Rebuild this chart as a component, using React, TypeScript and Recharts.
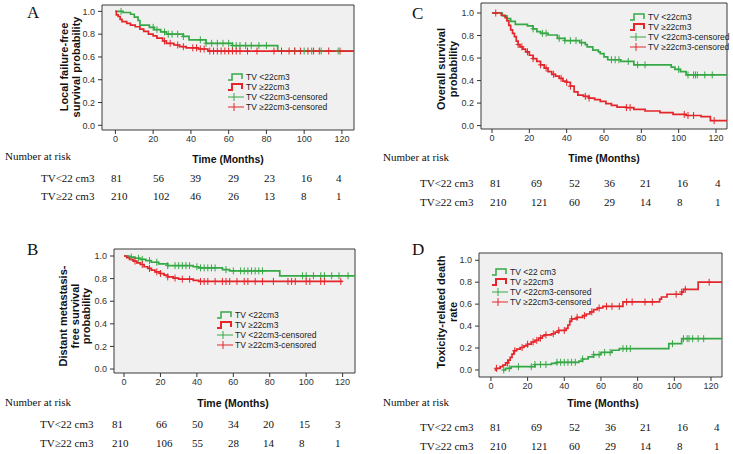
import { ComposedChart, Line, Scatter, XAxis, YAxis, CartesianGrid, ReferenceArea, Legend } from 'recharts';

type Pt = [number, number];

const GREEN = '#36a845';
const RED = '#e4262b';
const SANS = '"Liberation Sans", Arial, sans-serif';
const SERIF = '"Liberation Serif", "Times New Roman", serif';

const xTicks = [0, 20, 40, 60, 80, 100, 120];
const yTicks = [0, 0.2, 0.4, 0.6, 0.8, 1.0];

// A: local failure-free survival
const aLow: Pt[] = [[0, 1.0], [4, 0.99], [8, 0.975], [10, 0.95], [12, 0.92], [13, 0.88], [18, 0.86], [20.5, 0.84], [24, 0.82], [27, 0.8], [36, 0.78], [39, 0.75], [48, 0.72], [62, 0.7], [86, 0.652], [127, 0.652]];
const aHigh: Pt[] = [[0, 1.0], [0.5, 0.97], [1.5, 0.955], [2.5, 0.93], [3.5, 0.91], [6, 0.895], [8, 0.88], [10.5, 0.865], [13, 0.845], [15, 0.825], [17.5, 0.8], [20, 0.785], [22, 0.765], [25, 0.74], [27, 0.72], [31, 0.705], [34, 0.69], [37.5, 0.68], [44, 0.67], [49, 0.652], [127, 0.652]];
const aLowCens = [3, 20, 22, 26, 28, 30, 33, 36, 45, 48, 51, 54, 57, 60, 62, 64, 66, 69, 72, 76, 80, 95, 100, 104, 109, 118];
const aHighCens = [26, 29, 33, 36, 41, 43, 45, 47, 50, 52, 54, 56, 58, 60, 62, 64, 66, 70, 75, 84, 88, 92, 95, 98, 102, 105, 108, 113, 119];

// B: distant metastasis-free survival
const bLow: Pt[] = [[0, 1.0], [3, 0.99], [6, 0.98], [9, 0.97], [12, 0.96], [15, 0.945], [19, 0.93], [24, 0.915], [38, 0.905], [41, 0.895], [54, 0.88], [58, 0.868], [85.5, 0.825], [127, 0.825]];
const bHigh: Pt[] = [[0, 1.0], [1.5, 0.985], [3, 0.97], [5, 0.955], [7, 0.94], [9, 0.925], [11, 0.905], [13, 0.89], [15, 0.875], [17, 0.86], [20, 0.845], [22, 0.83], [24, 0.815], [27, 0.805], [30, 0.795], [38, 0.785], [41, 0.775], [120, 0.775]];
const bLowCens = [4, 8, 10, 14, 18, 24, 28, 30, 32, 34, 36, 40, 42, 44, 46, 48, 50, 56, 60, 64, 66, 68, 70, 72, 74, 76, 98, 100, 104, 108, 110, 114, 118, 123];
const bHighCens = [6, 10, 14, 18, 20, 24, 28, 32, 36, 42, 44, 46, 50, 54, 56, 58, 62, 66, 68, 72, 76, 82, 90, 92, 94, 100, 102, 108, 110, 119];

// C: overall survival
const cLow: Pt[] = [[0, 1.0], [5.5, 0.975], [8, 0.95], [10, 0.925], [12.5, 0.9], [19, 0.885], [22, 0.86], [24, 0.835], [26, 0.82], [30, 0.805], [35, 0.775], [39, 0.755], [47, 0.737], [50, 0.72], [51, 0.7], [54, 0.67], [57, 0.655], [58, 0.64], [60, 0.61], [62, 0.585], [69, 0.57], [76, 0.54], [96, 0.52], [98, 0.5], [101, 0.48], [104, 0.45], [126, 0.45]];
const cHigh: Pt[] = [[0, 1.0], [5, 0.98], [7, 0.96], [8, 0.93], [9, 0.89], [10, 0.85], [11, 0.82], [12, 0.79], [13, 0.75], [14, 0.72], [15, 0.7], [16.5, 0.68], [18, 0.655], [20, 0.625], [22, 0.595], [24, 0.57], [26, 0.54], [28, 0.51], [30, 0.48], [32, 0.455], [34, 0.44], [36, 0.42], [38, 0.395], [40, 0.385], [42, 0.35], [44, 0.3], [46, 0.27], [49, 0.26], [52, 0.245], [55, 0.23], [58, 0.215], [61, 0.195], [64, 0.18], [67, 0.165], [72, 0.16], [76, 0.145], [82, 0.13], [90, 0.115], [97, 0.1], [104, 0.09], [112, 0.08], [117, 0.045], [126, 0.045]];
const cLowCens = [22, 27, 29, 36, 39, 42, 45, 48, 64, 66, 68, 73, 78, 82, 100, 105, 108, 109, 110, 114, 118];
const cHighCens = [2, 14, 16, 19, 22, 26, 29, 33, 37, 40, 42, 50, 52, 72, 74, 103, 105, 108, 119];

// D: toxicity-related death rate
const dLow: Pt[] = [[6.5, 0], [8, 0.015], [11, 0.03], [24, 0.05], [33, 0.06], [36, 0.07], [48, 0.08], [50, 0.1], [53, 0.12], [56, 0.14], [60, 0.16], [66, 0.18], [70, 0.195], [97, 0.24], [104, 0.285], [127, 0.285]];
const dHigh: Pt[] = [[2, 0], [3, 0.015], [5, 0.03], [6.5, 0.045], [8, 0.065], [9.5, 0.09], [10.5, 0.115], [11.5, 0.145], [12.5, 0.175], [14, 0.19], [16, 0.205], [18, 0.22], [20, 0.235], [22, 0.255], [24, 0.27], [26, 0.29], [28, 0.31], [29, 0.32], [33, 0.33], [35, 0.345], [37, 0.36], [41, 0.38], [42, 0.41], [43, 0.445], [44, 0.465], [47, 0.48], [50, 0.495], [52, 0.51], [54, 0.53], [56, 0.55], [58, 0.565], [61, 0.58], [72, 0.62], [92, 0.645], [93, 0.665], [96, 0.69], [104, 0.71], [105, 0.735], [113, 0.8], [127, 0.8]];
const dLowCens = [7, 10, 15, 22, 24, 27, 30, 36, 38, 40, 42, 44, 46, 50, 56, 59, 62, 65, 72, 74, 76, 99, 105, 107, 108, 110, 113, 116];
const dHighCens = [3, 9, 13, 17, 20, 23, 25, 27, 30, 34, 37, 40, 44, 47, 51, 55, 59, 63, 66, 70, 74, 77, 84, 88, 101, 104, 106, 119];

// number at risk
const riskGroups = ['TV<22 cm3', 'TV≥22 cm3'];
const aRisk = [[81, 56, 39, 29, 23, 16, 4], [210, 102, 46, 26, 13, 8, 1]];
const bRisk = [[81, 66, 50, 34, 20, 15, 3], [210, 106, 55, 28, 14, 8, 1]];
const cRisk = [[81, 69, 52, 36, 21, 16, 4], [210, 121, 60, 29, 14, 8, 1]];
const dRisk = [[81, 69, 52, 36, 21, 16, 4], [210, 121, 60, 29, 14, 8, 1]];

const legendLabels = ['TV <22cm3', 'TV ≥22cm3', 'TV <22cm3-censored', 'TV ≥22cm3-censored'];
const legendLabelsD = ['TV <22 cm3', 'TV ≥22cm3', 'TV <22cm3-censored', 'TV ≥22cm3-censored'];

const stepAt = (curve: Pt[], t: number) => {
    let s = curve[0][1];
    for (const [ct, cs] of curve) {
        if (ct <= t) s = cs;
        else break;
    }
    return s;
};
const toRows = (curve: Pt[]) => curve.map(([t, s]) => ({ t, s }));
const censorRows = (curve: Pt[], times: number[]) => times.map((t) => ({ t, s: stepAt(curve, t) }));

const plus = (color: string) => (props: any) => {
    const { cx, cy } = props;
    if (cx == null || cy == null) return <g />;
    return (
        <path
            d={`M${cx} ${cy - 3.5}V${cy + 3.5}M${cx - 2.5} ${cy}H${cx + 2.5}`}
            stroke={color}
            strokeWidth={1}
            fill="none"
        />
    );
};

function LegendBox({ labels }: { labels: string[] }) {
    const colors = [GREEN, RED, GREEN, RED];
    return (
        <div style={{ fontFamily: SANS, fontSize: 8.5, color: '#222', lineHeight: '10px' }}>
            {labels.map((lab, i) => (
                <div key={lab} style={{ display: 'flex', alignItems: 'center', height: 10, whiteSpace: 'nowrap' }}>
                    <svg width={17} height={10} style={{ marginRight: 1 }}>
                        {i < 2 ? (
                            <path d="M0 8H4V2H14V7" stroke={colors[i]} strokeWidth={i === 1 ? 2 : 1.5} fill="none" />
                        ) : (
                            <path d="M0 5H16M6 1V9" stroke={colors[i]} strokeWidth={1} fill="none" />
                        )}
                    </svg>
                    <span>{lab}</span>
                </div>
            ))}
        </div>
    );
}

interface PanelCfg {
    left: number;
    top: number;
    width: number;
    height: number;
    margin: { top: number; right: number; bottom: number; left: number };
    xDomain: [number, number];
    yDomain: [number, number];
    low: Pt[];
    high: Pt[];
    lowCens: number[];
    highCens: number[];
    legend: { left: number; top: number };
    labels: string[];
}

const panels: PanelCfg[] = [
    { left: 0, top: 0, width: 360, height: 150, margin: { top: 5, right: 6, bottom: 0, left: 72 }, xDomain: [-7.1, 126.4], yDomain: [-0.041, 1.056], low: aLow, high: aHigh, lowCens: aLowCens, highCens: aHighCens, legend: { left: 228, top: 72 }, labels: legendLabels },
    { left: 0, top: 240, width: 360, height: 153, margin: { top: 9, right: 5, bottom: 0, left: 84 }, xDomain: [-5.5, 126.8], yDomain: [-0.035, 1.062], low: bLow, high: bHigh, lowCens: bLowCens, highCens: bHighCens, legend: { left: 217, top: 70 }, labels: legendLabels },
    { left: 370, top: 0, width: 363, height: 149, margin: { top: 3, right: 6, bottom: 0, left: 81 }, xDomain: [-5.9, 125.9], yDomain: [-0.03, 1.089], low: cLow, high: cHigh, lowCens: cLowCens, highCens: cHighCens, legend: { left: 260, top: 12 }, labels: legendLabels },
    { left: 370, top: 240, width: 363, height: 157, margin: { top: 13, right: 11, bottom: 0, left: 79 }, xDomain: [-6.5, 126], yDomain: [-0.064, 1.066], low: dLow, high: dHigh, lowCens: dLowCens, highCens: dHighCens, legend: { left: 122, top: 27 }, labels: legendLabelsD },
];

function KMPanel({ cfg }: { cfg: PanelCfg }) {
    const tickStyle = { fontSize: 9, fill: '#333', fontFamily: SANS };
    return (
        <div style={{ position: 'absolute', left: cfg.left, top: cfg.top }}>
            <ComposedChart width={cfg.width} height={cfg.height} margin={cfg.margin}>
                <CartesianGrid horizontal={false} vertical={false} fill="#f0f0f0" />
                <XAxis
                    type="number"
                    dataKey="t"
                    domain={cfg.xDomain}
                    ticks={xTicks}
                    interval={0}
                    allowDataOverflow
                    height={20}
                    tickSize={4}
                    tickMargin={2}
                    tick={tickStyle}
                    axisLine={false}
                    tickLine={{ stroke: '#333' }}
                />
                <YAxis
                    type="number"
                    dataKey="s"
                    domain={cfg.yDomain}
                    ticks={yTicks}
                    interval={0}
                    allowDataOverflow
                    width={30}
                    tickSize={4}
                    tickMargin={3}
                    tick={tickStyle}
                    axisLine={false}
                    tickLine={{ stroke: '#333' }}
                    tickFormatter={(v: number) => v.toFixed(1)}
                />
                <ReferenceArea
                    x1={cfg.xDomain[0]}
                    x2={cfg.xDomain[1]}
                    y1={cfg.yDomain[0]}
                    y2={cfg.yDomain[1]}
                    fill="none"
                    stroke="#3a3a3a"
                    strokeWidth={1}
                    ifOverflow="visible"
                />
                <Line data={toRows(cfg.low)} dataKey="s" type="stepAfter" stroke={GREEN} strokeWidth={1.7} dot={false} isAnimationActive={false} />
                <Scatter data={censorRows(cfg.low, cfg.lowCens)} dataKey="s" shape={plus(GREEN)} isAnimationActive={false} />
                <Line data={toRows(cfg.high)} dataKey="s" type="stepAfter" stroke={RED} strokeWidth={1.7} dot={false} isAnimationActive={false} />
                <Scatter data={censorRows(cfg.high, cfg.highCens)} dataKey="s" shape={plus(RED)} isAnimationActive={false} />
                <Legend
                    verticalAlign="middle"
                    layout="horizontal"
                    wrapperStyle={{ left: cfg.legend.left, top: cfg.legend.top, width: 'auto' }}
                    content={() => <LegendBox labels={cfg.labels} />}
                />
            </ComposedChart>
        </div>
    );
}

interface TextCfg {
    letter: string;
    letterPos: [number, number];
    narPos: [number, number];
    titlePos: [number, number];
    rowLabelX: number;
    rowY: number[];
    cols: number[];
    risk: number[][];
    yLines: string[];
    yLineX: number[];
    yCenter: number;
}

const texts: TextCfg[] = [
    { letter: 'A', letterPos: [27, 12], narPos: [5, 156], titlePos: [228, 159], rowLabelX: 41, rowY: [178, 196], cols: [111, 153, 190, 228, 264, 301, 336], risk: aRisk, yLines: ['Local failure-free', 'survival probability'], yLineX: [64, 76], yCenter: 67 },
    { letter: 'B', letterPos: [27, 249], narPos: [5, 402], titlePos: [233, 403], rowLabelX: 40, rowY: [424, 443], cols: [112, 156, 192, 228, 263, 299, 335], risk: bRisk, yLines: ['Distant metastasis-', 'free survival', 'probability'], yLineX: [63, 75, 86], yCenter: 316 },
    { letter: 'C', letterPos: [412, 13], narPos: [383, 157], titlePos: [604, 158], rowLabelX: 420, rowY: [183, 202], cols: [490, 531, 569, 604, 640, 677, 715], risk: cRisk, yLines: ['Overall survival', 'probability'], yLineX: [441, 453], yCenter: 69 },
    { letter: 'D', letterPos: [412, 249], narPos: [383, 402], titlePos: [603, 403], rowLabelX: 420, rowY: [427, 446], cols: [490, 531, 569, 605, 640, 677, 714], risk: dRisk, yLines: ['Toxicity-related death', 'rate'], yLineX: [441, 453], yCenter: 312 },
];

function Overlay() {
    return (
        <svg width={733} height={454} style={{ position: 'absolute', left: 0, top: 0, pointerEvents: 'none' }}>
            {texts.map((tc) => (
                <g key={tc.letter}>
                    <text x={tc.letterPos[0]} y={tc.letterPos[1]} fontFamily={SERIF} fontSize={17} dominantBaseline="central" fill="#111">
                        {tc.letter}
                    </text>
                    <text x={tc.narPos[0]} y={tc.narPos[1]} fontFamily={SERIF} fontSize={11} dominantBaseline="central" fill="#111">
                        Number at risk
                    </text>
                    <text x={tc.titlePos[0]} y={tc.titlePos[1]} fontFamily={SANS} fontSize={10.5} fontWeight="bold" textAnchor="middle" dominantBaseline="central" fill="#111">
                        Time (Months)
                    </text>
                    {tc.yLines.map((ln, i) => (
                        <text
                            key={ln}
                            x={tc.yLineX[i]}
                            y={tc.yCenter}
                            transform={`rotate(-90 ${tc.yLineX[i]} ${tc.yCenter})`}
                            fontFamily={SANS}
                            fontSize={11}
                            fontWeight="bold"
                            textAnchor="middle"
                            dominantBaseline="central"
                            fill="#111"
                        >
                            {ln}
                        </text>
                    ))}
                    {riskGroups.map((g, r) => (
                        <g key={g}>
                            <text x={tc.rowLabelX} y={tc.rowY[r]} fontFamily={SERIF} fontSize={11} dominantBaseline="central" fill="#111">
                                {g}
                            </text>
                            {tc.risk[r].map((n, c) => (
                                <text key={c} x={tc.cols[c]} y={tc.rowY[r]} fontFamily={SERIF} fontSize={11} dominantBaseline="central" fill="#111">
                                    {n}
                                </text>
                            ))}
                        </g>
                    ))}
                </g>
            ))}
        </svg>
    );
}

export default function App() {
    return (
        <div style={{ position: 'absolute', left: 0, top: 0, width: 733, height: 454, background: '#fff', overflow: 'hidden' }}>
            {panels.map((p, i) => (
                <KMPanel key={i} cfg={p} />
            ))}
            <Overlay />
        </div>
    );
}
